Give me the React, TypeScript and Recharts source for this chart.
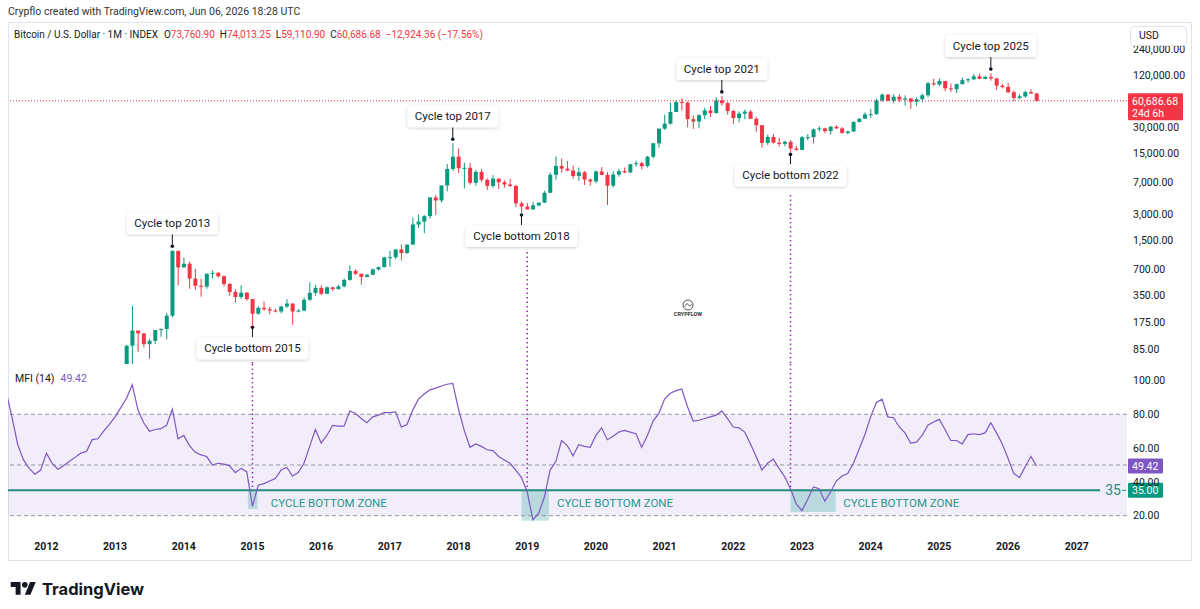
import React from 'react';
import {
  ComposedChart,
  Bar,
  Line,
  XAxis,
  YAxis,
  ReferenceLine,
  ReferenceArea,
  ReferenceDot
} from 'recharts';

// months are counted from Jan 2011 (= 0); the series starts in Jun 2011
const FIRST_MONTH = 5;

// monthly candles: [open, high, low, close]
const ohlc2011 = [
  [9.6, 31.9, 10, 16.1], [16.1, 17, 12.5, 13.4], [13.4, 14, 7, 8.2], [8.2, 8.9, 4.2, 5.1],
  [5.1, 5.2, 2.2, 3.3], [3.3, 3.6, 2, 3], [3, 4.8, 2.8, 4.7]
];
const ohlc2012 = [
  [4.7, 7.4, 4.6, 5.5], [5.5, 6.3, 4.2, 4.9], [4.9, 5.4, 4.6, 4.9], [4.9, 5.4, 4.7, 5],
  [5, 5.2, 4.9, 5.1], [5.1, 6.8, 5.1, 6.7], [6.7, 9.6, 6.5, 9.3], [9.3, 15.4, 7.1, 10.2],
  [10.2, 12.8, 9.8, 12.4], [12.4, 12.9, 10.2, 11.2], [11.2, 12.9, 10.5, 12.6], [12.6, 13.9, 12.1, 13.5]
];
const ohlc2013 = [
  [13.5, 20.4, 12.9, 20.4], [20.4, 33.4, 19.5, 33.4], [33.4, 95.7, 33.1, 93], [93, 266, 50, 139],
  [139, 140, 79, 129], [129, 130, 89, 97], [97, 112, 66, 106], [106, 141, 97, 141],
  [141, 147, 118, 145], [145, 222, 110, 206], [206, 1163, 198, 1140], [1140, 1160, 460, 740]
];
const ohlc2014 = [
  [740, 960, 735, 815], [815, 860, 420, 550], [550, 710, 410, 455], [455, 545, 340, 445],
  [445, 630, 420, 625], [625, 680, 555, 640], [640, 655, 565, 585], [585, 600, 445, 477],
  [477, 490, 350, 386], [386, 415, 290, 338], [338, 460, 320, 378], [378, 385, 305, 320]
];
const ohlc2015 = [
  [320, 320, 160, 217], [217, 265, 212, 254], [254, 300, 236, 244], [244, 261, 214, 236],
  [236, 247, 225, 230], [230, 268, 220, 263], [263, 318, 252, 284], [284, 285, 162, 230],
  [230, 245, 225, 236], [236, 335, 235, 314], [314, 500, 305, 377], [377, 465, 350, 430]
];
const ohlc2016 = [
  [430, 460, 355, 368], [368, 445, 365, 437], [437, 440, 395, 416], [416, 467, 412, 448],
  [448, 550, 435, 531], [531, 780, 520, 673], [673, 705, 605, 624], [624, 628, 470, 575],
  [575, 620, 568, 608], [608, 720, 604, 700], [700, 755, 680, 745], [745, 980, 742, 963]
];
const ohlc2017 = [
  [963, 1150, 750, 968], [968, 1200, 915, 1190], [1190, 1350, 890, 1080], [1080, 1350, 1060, 1350],
  [1350, 2760, 1350, 2300], [2300, 3000, 2100, 2480], [2480, 2950, 1830, 2870], [2870, 4750, 2690, 4700],
  [4700, 5000, 2970, 4340], [4340, 6470, 4110, 6450], [6450, 11400, 5510, 10000], [10000, 19700, 9500, 13850]
];
const ohlc2018 = [
  [13850, 17200, 9000, 10200], [10200, 11800, 6000, 10300], [10300, 11700, 6600, 6930], [6930, 9750, 6430, 9240],
  [9240, 9990, 7050, 7500], [7500, 7770, 5750, 6390], [6390, 8500, 6100, 7730], [7730, 7750, 5880, 7030],
  [7030, 7400, 6100, 6630], [6630, 7680, 6200, 6370], [6370, 6590, 3650, 4020], [4020, 4230, 3120, 3700]
];
const ohlc2019 = [
  [3700, 4070, 3400, 3440], [3440, 4200, 3370, 3820], [3820, 4100, 3700, 4100], [4100, 5600, 4060, 5320],
  [5320, 9100, 5300, 8570], [8570, 13880, 7500, 10820], [10820, 13200, 9070, 10080], [10080, 12330, 9400, 9590],
  [9590, 10900, 7750, 8290], [8290, 10370, 7300, 9150], [9150, 9500, 6530, 7550], [7550, 7750, 6430, 7190]
];
const ohlc2020 = [
  [7190, 9580, 6870, 9350], [9350, 10500, 8450, 8540], [8540, 9190, 3850, 6420], [6420, 9460, 6150, 8630],
  [8630, 10080, 8120, 9450], [9450, 10380, 8900, 9140], [9140, 11450, 8900, 11330], [11330, 12480, 10650, 11650],
  [11650, 12080, 9880, 10780], [10780, 14100, 10400, 13800], [13800, 19900, 13200, 19700], [19700, 29300, 17600, 28990]
];
const ohlc2021 = [
  [28990, 41950, 28130, 33110], [33110, 58350, 32300, 45140], [45140, 61780, 45000, 58790], [58790, 64850, 47000, 57720],
  [57720, 59500, 30000, 37330], [37330, 41300, 28800, 35040], [35040, 42400, 29300, 41460], [41460, 50500, 37300, 47100],
  [47100, 52900, 39600, 43820], [43820, 67000, 43300, 61300], [61300, 69000, 53250, 57000], [57000, 59100, 42000, 46300]
];
const ohlc2022 = [
  [46300, 47990, 32900, 38480], [38480, 45800, 34300, 43190], [43190, 48200, 37200, 45540], [45540, 47450, 37700, 37640],
  [37640, 40000, 26700, 31800], [31800, 31950, 17600, 19930], [19930, 24660, 18800, 23300], [23300, 25200, 19600, 20050],
  [20050, 22800, 18150, 19430], [19430, 21080, 18200, 20500], [20500, 21450, 15480, 17170], [17170, 18400, 16260, 16540]
];
const ohlc2023 = [
  [16540, 23950, 16500, 23130], [23130, 25250, 21400, 23150], [23150, 29200, 19550, 28470], [28470, 31000, 26950, 29250],
  [29250, 29820, 25800, 27220], [27220, 31400, 24800, 30470], [30470, 31800, 28850, 29230], [29230, 30200, 25300, 25940],
  [25940, 27500, 24900, 26960], [26960, 35200, 26550, 34650], [34650, 38400, 34100, 37720], [37720, 44700, 37600, 42280]
];
const ohlc2024 = [
  [42280, 48970, 38550, 42580], [42580, 64000, 41880, 61130], [61130, 73800, 59000, 71330], [71330, 72750, 59600, 60670],
  [60670, 71950, 56550, 67530], [67530, 71950, 58400, 62680], [62680, 70000, 53500, 64630], [64630, 65100, 49000, 58970],
  [58970, 66500, 52550, 63330], [63330, 73600, 58900, 70220], [70220, 99800, 66800, 96400], [96400, 108300, 90500, 93430]
];
const ohlc2025 = [
  [93430, 109100, 89250, 102400], [102400, 102800, 78250, 84350], [84350, 95000, 76600, 82550], [82550, 95700, 74600, 94200],
  [94200, 111900, 93400, 104600], [104600, 110600, 98200, 107150], [107150, 123200, 105100, 115760], [115760, 124500, 107300, 108250],
  [108250, 117900, 107300, 114050], [114050, 126200, 103500, 109600], [109600, 111200, 80600, 90400], [90400, 94600, 84400, 87500]
];
const ohlc2026 = [
  [87500, 97500, 74500, 76000], [76000, 79500, 60000, 65500], [65500, 72000, 63000, 68200],
  [68200, 79500, 65500, 76300], [76300, 82500, 72800, 73611.04], [73760.9, 74013.25, 59110.9, 60686.68]
];

// MFI (14), one value per month
const mfi2011 = [93, 78, 62, 53, 48, 44.5, 47];
const mfi2012 = [57, 51, 47.5, 49.5, 52, 54.5, 57, 58, 65, 65.5, 70, 74];
const mfi2013 = [78.5, 84, 89.5, 97.5, 82.5, 75, 70, 71, 71.5, 73.5, 83, 65.5];
const mfi2014 = [67.5, 61.5, 57.5, 56, 55, 50, 51, 50.5, 49.5, 45.5, 48, 46];
const mfi2015 = [25.5, 38, 39, 40.5, 42, 47, 48.5, 43.5, 45.5, 51, 61, 71];
const mfi2016 = [63, 67.5, 73.5, 73, 73, 82, 80.5, 77.5, 75, 78.5, 79.5, 81];
const mfi2017 = [81, 81.5, 72.5, 74, 82.5, 89, 92, 94.5, 95.5, 96.8, 97.8, 98.3];
const mfi2018 = [83, 70.5, 60.5, 62.5, 61, 59, 58.5, 55, 53, 51, 47, 42.5];
const mfi2019 = [34, 17.5, 21.5, 31, 47, 52, 64.5, 61.5, 55.5, 62, 61, 60.5];
const mfi2020 = [67.5, 72, 65, 67, 69.5, 70.5, 69.5, 68.5, 60.5, 67.5, 76, 80.5];
const mfi2021 = [89, 92.5, 94, 95, 84.5, 76, 76.5, 77.5, 78.5, 79.5, 82, 77.5];
const mfi2022 = [72.5, 72, 69.5, 62.5, 55, 47, 51, 53.5, 48, 43, 36, 27];
const mfi2023 = [23, 29.5, 37, 36, 28.5, 34, 40.5, 43.5, 45, 51, 59.5, 68];
const mfi2024 = [78.5, 87, 89, 78.5, 78, 72.5, 69, 63, 63.5, 67.5, 73.5, 75.5];
const mfi2025 = [77, 71, 64.5, 64.5, 62.5, 68, 68.5, 68, 69, 75, 69, 62.5];
const mfi2026 = [54, 45, 42.5, 49, 55, 49.42];

const yearTicks = [2012, 2013, 2014, 2015, 2016, 2017, 2018, 2019, 2020, 2021, 2022, 2023, 2024, 2025, 2026, 2027];
const priceTicks = [240000, 120000, 30000, 15000, 7000, 3000, 1500, 700, 350, 175, 85];
const mfiTicks = [20, 40, 60, 80, 100];
const mfiLevels = [80, 50, 20];
const MFI_LEVEL = 35;

const callouts = [
  { m: 34, text: 'Cycle top 2013', top: true },
  { m: 48, text: 'Cycle bottom 2015', top: false },
  { m: 83, text: 'Cycle top 2017', top: true },
  { m: 95, text: 'Cycle bottom 2018', top: false },
  { m: 130, text: 'Cycle top 2021', top: true },
  { m: 142, text: 'Cycle bottom 2022', top: false },
  { m: 177, text: 'Cycle top 2025', top: true }
];

// bottom zones on the MFI pane: months from/to, lowest MFI, where the label starts
const bottomZones = [
  { from: 47.2, to: 48.9, floor: 24, labelAt: 51.2 },
  { from: 95, to: 99.8, floor: 17, labelAt: 101.2 },
  { from: 142, to: 149.9, floor: 22.2, labelAt: 151.2 }
];

// dotted cycle markers: month and the price where the dotted line starts
const cycleLines = [
  { m: 48, price: 60.5 },
  { m: 96, price: 1110 },
  { m: 142, price: 5020 }
];

const X_DOMAIN = [5.29, 200.79];
const PRICE_DOMAIN = [57.4, 487700];
const MFI_DOMAIN = [11.5, 109.8];

const UP = '#089981';
const DOWN = '#F23645';
const PURPLE = '#7E57C2';
const TEAL = '#26897f';
const TEXT = '#131722';
const FONT = 'Roboto, "Noto Sans", sans-serif';

const candles = [
  ...ohlc2011, ...ohlc2012, ...ohlc2013, ...ohlc2014, ...ohlc2015, ...ohlc2016,
  ...ohlc2017, ...ohlc2018, ...ohlc2019, ...ohlc2020, ...ohlc2021, ...ohlc2022,
  ...ohlc2023, ...ohlc2024, ...ohlc2025, ...ohlc2026
];
const mfi = [
  ...mfi2011, ...mfi2012, ...mfi2013, ...mfi2014, ...mfi2015, ...mfi2016,
  ...mfi2017, ...mfi2018, ...mfi2019, ...mfi2020, ...mfi2021, ...mfi2022,
  ...mfi2023, ...mfi2024, ...mfi2025, ...mfi2026
];

const rows = candles.map((c, i) => ({
  m: FIRST_MONTH + i,
  open: c[0],
  high: c[1],
  low: c[2],
  close: c[3],
  range: [c[2], c[1]],
  mfi: mfi[i]
}));

const last = rows[rows.length - 1];
const prev = rows[rows.length - 2];
const change = last.close - prev.close;
const changePct = (change / prev.close) * 100;
const lastMfi = mfi[mfi.length - 1];

const fmt = (v: number) =>
  v.toLocaleString('en-US', { minimumFractionDigits: 2, maximumFractionDigits: 2 });
const signed = (v: number, s = '') => (v < 0 ? '\u2212' : '+') + fmt(Math.abs(v)) + s;

function Candle(props: any) {
  const { x, y, width, height, payload } = props;
  if (!payload || x == null || y == null) return null;
  const { open, high, low, close } = payload;
  const yTop = Math.min(y, y + height);
  const yBot = Math.max(y, y + height);
  const span = Math.log(high) - Math.log(low) || 1;
  const toY = (v: number) => yTop + ((yBot - yTop) * (Math.log(high) - Math.log(v))) / span;
  const color = close >= open ? UP : DOWN;
  const bTop = toY(Math.max(open, close));
  const bBot = toY(Math.min(open, close));
  const cx = x + width / 2;
  return (
    <g>
      <line x1={cx} x2={cx} y1={yTop} y2={yBot} stroke={color} strokeWidth={1} />
      <rect x={x} y={bTop} width={width} height={Math.max(1, bBot - bTop)} fill={color} />
    </g>
  );
}

function Callout({ cx, cy, text, top }: any) {
  const w = text.length * 7 - 7;
  const h = 22;
  const dotY = top ? cy - 4 : cy + 2;
  const boxY = top ? cy - 16 - h : cy + 12;
  const edge = top ? boxY + h : boxY;
  return (
    <g>
      <line x1={cx} x2={cx} y1={dotY} y2={edge} stroke={TEXT} strokeWidth={1} />
      <circle cx={cx} cy={dotY} r={1.8} fill={TEXT} />
      <rect x={cx - w / 2} y={boxY} width={w} height={h} rx={3} fill="#fff" filter="url(#calloutShadow)" />
      <text x={cx} y={boxY + h / 2 + 4} textAnchor="middle" fontSize={11.5} fill={TEXT} fontFamily={FONT}>
        {text}
      </text>
    </g>
  );
}

function AxisTag({ cx, cy, lines, fill, w }: any) {
  const h = lines.length * 12 + 3;
  return (
    <g>
      <rect x={cx + 1} y={cy - 7.5} width={w} height={h} fill={fill} rx={1} />
      {lines.map((t: string, i: number) => (
        <text key={t} x={cx + 5} y={cy + 4 + i * 12} fontSize={10.5} fill="#fff" fontFamily={FONT}>
          {t}
        </text>
      ))}
    </g>
  );
}

export default function App() {
  const axisTick = { fontSize: 10.5, fill: TEXT, fontFamily: FONT };
  return (
    <div style={{ position: 'absolute', left: 0, top: 0, width: 1200, height: 609, background: '#fff', fontFamily: FONT, color: TEXT, overflow: 'hidden' }}>
      <div style={{ position: 'absolute', left: 8, top: 5, fontSize: 10.5, color: '#333' }}>
        Crypflo created with TradingView.com, Jun 06, 2026 18:28 UTC
      </div>
      <div style={{ position: 'absolute', left: 8, top: 22, width: 1184, height: 539, border: '1px solid #e0e3eb', boxSizing: 'border-box' }} />

      <div style={{ position: 'absolute', left: 0, top: 0 }}>
        <ComposedChart width={1200} height={364} data={rows} margin={{ top: 22, right: 8, left: 8, bottom: 0 }}>
          <defs>
            <filter id="calloutShadow" x="-20%" y="-50%" width="140%" height="200%">
              <feDropShadow dx="0" dy="1" stdDeviation="1.6" floodColor="#000" floodOpacity="0.2" />
            </filter>
          </defs>
          <XAxis dataKey="m" type="number" domain={X_DOMAIN} allowDataOverflow hide />
          <YAxis
            orientation="right"
            scale="log"
            domain={PRICE_DOMAIN}
            allowDataOverflow
            ticks={priceTicks}
            interval={0}
            tickFormatter={(v: number) => fmt(v)}
            axisLine={false}
            tickLine={false}
            tickMargin={0}
            width={65}
            tick={axisTick}
          />
          <ReferenceLine y={last.close} stroke={DOWN} strokeDasharray="1 2" strokeWidth={1} />
          {cycleLines.map(c => (
            <ReferenceLine
              key={c.m}
              segment={[{ x: c.m, y: c.price }, { x: c.m, y: PRICE_DOMAIN[0] }]}
              stroke="#9c27b0"
              strokeDasharray="1.5 3"
              strokeWidth={1.5}
              ifOverflow="visible"
            />
          ))}
          <Bar dataKey="range" barSize={4} shape={<Candle />} isAnimationActive={false} />
          {callouts.map(c => {
            const row = rows[c.m - FIRST_MONTH];
            return (
              <ReferenceDot
                key={c.text}
                x={c.m}
                y={c.top ? row.high : row.low}
                ifOverflow="visible"
                shape={(p: any) => <Callout cx={p.cx} cy={p.cy} text={c.text} top={c.top} />}
              />
            );
          })}
          <ReferenceDot
            x={X_DOMAIN[1]}
            y={last.close}
            ifOverflow="visible"
            shape={(p: any) => <AxisTag cx={p.cx} cy={p.cy} fill={DOWN} w={55} lines={[fmt(last.close), '24d 6h']} />}
          />
        </ComposedChart>
      </div>

      <div style={{ position: 'absolute', left: 0, top: 364 }}>
        <ComposedChart width={1200} height={196} data={rows} margin={{ top: 0, right: 8, left: 8, bottom: 0 }}>
          <XAxis
            dataKey="m"
            type="number"
            domain={X_DOMAIN}
            allowDataOverflow
            ticks={yearTicks.map(y => (y - 2011) * 12)}
            interval={0}
            tickFormatter={(m: number) => String(2011 + m / 12)}
            axisLine={false}
            tickLine={false}
            tickMargin={7}
            height={30}
            tick={{ ...axisTick, fontWeight: 700 }}
          />
          <YAxis
            orientation="right"
            domain={MFI_DOMAIN}
            allowDataOverflow
            ticks={mfiTicks}
            interval={0}
            tickFormatter={(v: number) => v.toFixed(2)}
            axisLine={false}
            tickLine={false}
            tickMargin={0}
            width={65}
            tick={axisTick}
          />
          <ReferenceArea y1={20} y2={80} fill={PURPLE} fillOpacity={0.1} stroke="none" ifOverflow="visible" />
          {mfiLevels.map(l => (
            <ReferenceLine key={l} y={l} stroke="#9598a1" strokeDasharray="4 3" strokeWidth={1} />
          ))}
          {bottomZones.map(z => (
            <ReferenceArea key={z.from} x1={z.from} x2={z.to} y1={z.floor} y2={MFI_LEVEL} fill="#26a69a" fillOpacity={0.28} stroke="none" />
          ))}
          <ReferenceLine
            segment={[{ x: X_DOMAIN[0], y: MFI_LEVEL }, { x: 196.1, y: MFI_LEVEL }]}
            stroke={TEAL}
            strokeWidth={2}
            ifOverflow="visible"
          />
          {cycleLines.map(c => (
            <ReferenceLine
              key={c.m}
              segment={[{ x: c.m, y: MFI_DOMAIN[1] }, { x: c.m, y: MFI_LEVEL }]}
              stroke="#9c27b0"
              strokeDasharray="1.5 3"
              strokeWidth={1.5}
              ifOverflow="visible"
            />
          ))}
          <Line dataKey="mfi" type="linear" stroke={PURPLE} strokeWidth={1.2} dot={false} activeDot={false} isAnimationActive={false} />
          {bottomZones.map(z => (
            <ReferenceDot
              key={'l' + z.from}
              x={z.labelAt}
              y={28}
              ifOverflow="visible"
              shape={(p: any) => (
                <text x={p.cx} y={p.cy + 4.5} fontSize={11.5} fill="#22968c" fontFamily={FONT}>
                  CYCLE BOTTOM ZONE
                </text>
              )}
            />
          ))}
          <ReferenceDot
            x={196.1}
            y={MFI_LEVEL}
            ifOverflow="visible"
            shape={(p: any) => (
              <g>
                <text x={p.cx + 5} y={p.cy + 5} fontSize={14} fill={TEAL} fontFamily={FONT}>
                  {MFI_LEVEL}
                </text>
                <line x1={p.cx + 22} x2={p.cx + 26} y1={p.cy} y2={p.cy} stroke={TEAL} strokeWidth={1} />
              </g>
            )}
          />
          <ReferenceDot
            x={X_DOMAIN[1]}
            y={lastMfi}
            ifOverflow="visible"
            shape={(p: any) => <AxisTag cx={p.cx} cy={p.cy} fill={PURPLE} w={35} lines={[lastMfi.toFixed(2)]} />}
          />
          <ReferenceDot
            x={X_DOMAIN[1]}
            y={MFI_LEVEL}
            ifOverflow="visible"
            shape={(p: any) => <AxisTag cx={p.cx} cy={p.cy} fill={UP} w={35} lines={[MFI_LEVEL.toFixed(2)]} />}
          />
        </ComposedChart>
      </div>

      <div style={{ position: 'absolute', left: 14, top: 29, fontSize: 10, whiteSpace: 'nowrap', color: TEXT }}>
        Bitcoin / U.S. Dollar · 1M · INDEX
        <span style={{ marginLeft: 6 }}>O<span style={{ color: DOWN }}>{fmt(last.open)}</span></span>
        <span style={{ marginLeft: 5 }}>H<span style={{ color: DOWN }}>{fmt(last.high)}</span></span>
        <span style={{ marginLeft: 5 }}>L<span style={{ color: DOWN }}>{fmt(last.low)}</span></span>
        <span style={{ marginLeft: 5 }}>C<span style={{ color: DOWN }}>{fmt(last.close)}</span></span>
        <span style={{ marginLeft: 5, color: DOWN }}>
          {signed(change)} ({signed(changePct, '%')})
        </span>
      </div>
      <div style={{ position: 'absolute', left: 15, top: 372, fontSize: 10.5, whiteSpace: 'nowrap', color: TEXT }}>
        MFI (14)<span style={{ marginLeft: 6, color: PURPLE }}>{lastMfi.toFixed(2)}</span>
      </div>
      <div style={{ position: 'absolute', left: 1130, top: 26, width: 57, height: 20, background: '#fff', border: '1px solid #e0e3eb', borderRadius: 4, boxSizing: 'border-box', fontSize: 10.5, lineHeight: '18px', paddingLeft: 8 }}>
        USD
      </div>

      <svg style={{ position: 'absolute', left: 0, top: 0 }} width={1200} height={609} pointerEvents="none">
        <g transform="translate(688 305)">
          <circle r={5} fill="none" stroke="#444" strokeWidth={0.9} />
          <path d="M-3.5 1.5 L-1 -1.5 L1.5 1 L3.5 -0.5" fill="none" stroke="#444" strokeWidth={0.9} />
          <text y={10.5} textAnchor="middle" fontSize={5.5} fontWeight={700} fill="#333" fontFamily={FONT}>
            CRYPFLOW
          </text>
        </g>
        <g transform="translate(10.7 579.2) scale(0.705)">
          <path d="M14 22H7V11H0V4h14v18zM28 22h-8l7.5-18h8L28 22z" fill="#131722" />
          <circle cx={20} cy={8} r={4} fill="#131722" />
        </g>
        <text x={42} y={594.5} fontSize={16.5} fontWeight={700} fill="#131722" fontFamily="Inter, Roboto, sans-serif">
          TradingView
        </text>
      </svg>
    </div>
  );
}
